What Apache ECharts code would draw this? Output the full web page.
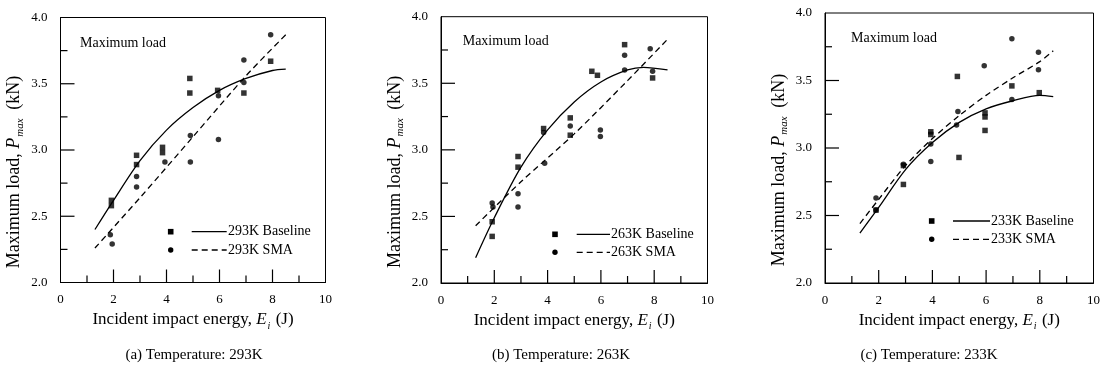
<!DOCTYPE html>
<html>
<head>
<meta charset="utf-8">
<script src="https://cdn.jsdelivr.net/npm/echarts@6/dist/echarts.min.js"></script>
<style>
  html, body { margin: 0; padding: 0; background: #fff; }
  #chart { width: 1108px; height: 375px; }
</style>
</head>
<body>
<div id="chart"></div>
<script>
// ---- measured specimens: incident energy (J) and peak load (kN) ----
// 293K
const base293E = [1.92, 1.92, 2.87, 2.87, 3.85, 3.85, 4.88, 4.88, 5.93, 6.92, 7.93];
const base293P = [2.62, 2.58, 2.96, 2.89, 3.02, 2.98, 3.54, 3.43, 3.45, 3.43, 3.67];
const sma293E  = [1.88, 1.95, 2.87, 2.87, 3.94, 4.90, 4.90, 5.96, 5.96, 6.92, 6.92, 7.93];
const sma293P  = [2.36, 2.29, 2.80, 2.72, 2.91, 3.11, 2.91, 3.41, 3.08, 3.68, 3.51, 3.87];
// 263K
const base263E = [1.92, 1.92, 2.89, 2.89, 3.85, 4.85, 4.85, 5.66, 5.87, 6.89, 7.94];
const base263P = [2.46, 2.35, 2.95, 2.87, 3.16, 3.24, 3.11, 3.59, 3.56, 3.79, 3.54];
const sma263E  = [1.92, 1.95, 2.89, 2.89, 3.85, 3.89, 4.85, 5.98, 5.98, 6.89, 6.89, 7.85, 7.94];
const sma263P  = [2.60, 2.57, 2.67, 2.57, 3.13, 2.90, 3.18, 3.15, 3.10, 3.71, 3.60, 3.76, 3.59];
// 233K
const base233E = [1.90, 2.92, 2.92, 3.94, 3.94, 4.93, 4.99, 5.96, 5.96, 5.96, 6.96, 7.98];
const base233P = [2.54, 2.87, 2.73, 3.12, 3.10, 3.53, 2.93, 3.26, 3.23, 3.13, 3.46, 3.41];
const sma233E  = [1.90, 1.90, 2.92, 3.94, 3.94, 4.90, 4.95, 5.93, 6.96, 6.96, 7.95, 7.95];
const sma233P  = [2.63, 2.54, 2.88, 2.90, 3.03, 3.17, 3.27, 3.61, 3.81, 3.36, 3.71, 3.58];

// ---- fitted trend curves (sampled along each curve) ----
const fit293BaseE = [1.3, 2, 3, 4, 5, 6, 7, 8, 8.5];
const fit293BaseP = [2.40, 2.62, 2.92, 3.15, 3.32, 3.45, 3.54, 3.60, 3.61];
const fit293SmaE  = [1.3, 3, 5, 7, 8.5];
const fit293SmaP  = [2.26, 2.64, 3.10, 3.56, 3.87];

const fit263BaseE = [1.3, 2, 3, 4, 5, 6, 7, 7.6, 8.5];
const fit263BaseP = [2.19, 2.49, 2.87, 3.15, 3.36, 3.51, 3.60, 3.62, 3.60];
const fit263SmaE  = [1.3, 3, 5, 7, 8.5];
const fit263SmaP  = [2.43, 2.76, 3.12, 3.52, 3.83];

const fit233BaseE = [1.3, 2, 3, 4, 5, 6, 7, 8, 8.5];
const fit233BaseP = [2.37, 2.56, 2.84, 3.04, 3.19, 3.29, 3.35, 3.39, 3.38];
const fit233SmaE  = [1.3, 2, 3, 4, 5, 6, 7, 8, 8.5];
const fit233SmaP  = [2.44, 2.62, 2.87, 3.07, 3.24, 3.39, 3.52, 3.64, 3.72];

// ---- axis ticks (energy every 1 J, load every 0.25 kN) ----
const energyTicks = [1, 2, 3, 4, 5, 6, 7, 8, 9];
const loadTicks   = [2.25, 2.5, 2.75, 3.0, 3.25, 3.5, 3.75];

// ---- text ----
const temps    = ['293K', '263K', '233K'];
const captions = ['(a) Temperature: 293K', '(b) Temperature: 263K', '(c) Temperature: 233K'];
const panelNote = 'Maximum load';

const FONT = '"Liberation Serif", "Times New Roman", serif';
const INK = '#000';
const E_MIN = 0, E_MAX = 10, P_MIN = 2, P_MAX = 4;

const zip = (xs, ys) => xs.map((x, i) => [x, ys[i]]);

const panelData = [
  { base: zip(base293E, base293P), sma: zip(sma293E, sma293P),
    baseFit: zip(fit293BaseE, fit293BaseP), smaFit: zip(fit293SmaE, fit293SmaP) },
  { base: zip(base263E, base263P), sma: zip(sma263E, sma263P),
    baseFit: zip(fit263BaseE, fit263BaseP), smaFit: zip(fit263SmaE, fit263SmaP) },
  { base: zip(base233E, base233P), sma: zip(sma233E, sma233P),
    baseFit: zip(fit233BaseE, fit233BaseP), smaFit: zip(fit233SmaE, fit233SmaP) }
];

// plot boxes of the three panels
const boxes = [
  { left: 60.5, top: 17.5, width: 265,   height: 265 },
  { left: 441,  top: 16.7, width: 266.5, height: 266.3 },
  { left: 825,  top: 13,   width: 268.5, height: 270 }
];
// legend anchor (marker x, first row y) and note anchor per panel
const legendPos = [
  { mx: 170.7, y: 231.7, lx0: 191.7, lx1: 226.7, tx: 228, dy: 18.3 },
  { mx: 555,   y: 234.3, lx0: 576.7, lx1: 610,   tx: 611, dy: 18 },
  { mx: 931.7, y: 221,   lx0: 953,   lx1: 990,   tx: 991, dy: 18.3 }
];
const notePos = [ { x: 80, y: 43 }, { x: 462.7, y: 41.7 }, { x: 851, y: 38.3 } ];
const captionX = [194, 561, 929];

const richName = {
  t:   { fontFamily: FONT, fontSize: 17, color: INK, lineHeight: 22, verticalAlign: 'middle' },
  it:  { fontFamily: FONT, fontSize: 17, fontStyle: 'italic', color: INK, lineHeight: 22, verticalAlign: 'middle' },
  sub: { fontFamily: FONT, fontSize: 10, fontStyle: 'italic', color: INK, lineHeight: 11, padding: [0, 1, 0, 1], verticalAlign: 'bottom' }
};
const richNameY = {
  t:   { fontFamily: FONT, fontSize: 18, color: INK, lineHeight: 22, verticalAlign: 'middle' },
  it:  { fontFamily: FONT, fontSize: 18, fontStyle: 'italic', color: INK, lineHeight: 22, verticalAlign: 'middle' },
  sub: { fontFamily: FONT, fontSize: 11, fontStyle: 'italic', color: INK, lineHeight: 11, padding: [0, 4, 0, 1], verticalAlign: 'bottom' }
};

const grid = [], xAxis = [], yAxis = [], series = [], graphic = [];

boxes.forEach((b, i) => {
  grid.push(Object.assign({ show: true, borderColor: INK }, b));

  xAxis.push({
    gridIndex: i, type: 'value', min: E_MIN, max: E_MAX, interval: 2,
    axisLine: { show: true, lineStyle: { color: INK } },
    axisTick: { show: false }, minorTick: { show: false },
    splitLine: { show: false },
    axisLabel: { margin: 11, fontFamily: FONT, fontSize: 13, color: INK },
    name: '{t|Incident impact energy, }{it|E}{sub|i}{t| (J)}',
    nameLocation: 'middle', nameGap: 26,
    nameTextStyle: { rich: richName }
  });

  yAxis.push({
    gridIndex: i, type: 'value', min: P_MIN, max: P_MAX, interval: 0.5,
    axisLine: { show: true, lineStyle: { color: INK } },
    axisTick: { show: false }, minorTick: { show: false },
    splitLine: { show: false },
    axisLabel: { margin: 13, fontFamily: FONT, fontSize: 13, color: INK, formatter: v => v.toFixed(1) },
    name: '{t|Maximum load, }{it|P}{sub|max}{t| (kN)}',
    nameLocation: 'middle', nameGap: 35,
    nameTextStyle: { rich: richNameY, padding: [0, 44, 0, 0] }
  });

  const d = panelData[i];
  series.push(
    { type: 'scatter', name: temps[i] + ' Baseline pts', xAxisIndex: i, yAxisIndex: i,
      data: d.base, symbol: 'rect', symbolSize: 5.5, itemStyle: { color: INK } },
    { type: 'scatter', name: temps[i] + ' SMA pts', xAxisIndex: i, yAxisIndex: i,
      data: d.sma, symbol: 'circle', symbolSize: 5.5, itemStyle: { color: INK } },
    { type: 'line', name: temps[i] + ' Baseline', xAxisIndex: i, yAxisIndex: i,
      data: d.baseFit, smooth: 0.3, showSymbol: false,
      lineStyle: { color: INK, width: 1.3 } },
    { type: 'line', name: temps[i] + ' SMA', xAxisIndex: i, yAxisIndex: i,
      data: d.smaFit, smooth: 0.3, showSymbol: false,
      lineStyle: { color: INK, width: 1.3, type: [6, 4] } }
  );

  // legend block
  const L = legendPos[i];
  graphic.push(
    { type: 'rect', shape: { x: L.mx - 2.8, y: L.y - 2.8, width: 5.6, height: 5.6 }, style: { fill: INK } },
    { type: 'line', shape: { x1: L.lx0, y1: L.y, x2: L.lx1, y2: L.y }, style: { stroke: INK, lineWidth: 1.3 } },
    { type: 'text', x: L.tx, y: L.y, style: { text: temps[i] + ' Baseline', font: '14px ' + FONT, fill: INK, verticalAlign: 'middle' } },
    { type: 'circle', shape: { cx: L.mx, cy: L.y + L.dy, r: 2.7 }, style: { fill: INK } },
    { type: 'line', shape: { x1: L.lx0, y1: L.y + L.dy, x2: L.lx1, y2: L.y + L.dy }, style: { stroke: INK, lineWidth: 1.3, lineDash: [6, 4] } },
    { type: 'text', x: L.tx, y: L.y + L.dy, style: { text: temps[i] + ' SMA', font: '14px ' + FONT, fill: INK, verticalAlign: 'middle' } },
    { type: 'text', x: notePos[i].x, y: notePos[i].y, style: { text: panelNote, font: '14px ' + FONT, fill: INK, verticalAlign: 'middle' } },
    { type: 'text', x: captionX[i], y: 355, style: { text: captions[i], font: '15px ' + FONT, fill: INK, align: 'center', verticalAlign: 'middle' } }
  );

  // inward tick marks along the bottom and left edges of the plot box
  const bottom = b.top + b.height;
  energyTicks.forEach(v => {
    const x = b.left + (v - E_MIN) / (E_MAX - E_MIN) * b.width;
    const len = v % 2 === 0 ? 13 : 7;
    graphic.push({ type: 'line', shape: { x1: x, y1: bottom, x2: x, y2: bottom - len },
                   style: { stroke: INK, lineWidth: 1.2 } });
  });
  loadTicks.forEach(v => {
    const y = bottom - (v - P_MIN) / (P_MAX - P_MIN) * b.height;
    const major = Math.abs(v * 2 - Math.round(v * 2)) < 1e-9;
    const len = major ? 14 : 7;
    graphic.push({ type: 'line', shape: { x1: b.left, y1: y, x2: b.left + len, y2: y },
                   style: { stroke: INK, lineWidth: 1.2 } });
  });
});

const chart = echarts.init(document.getElementById('chart'));
chart.setOption({
  backgroundColor: '#fff',
  animation: false,
  grid, xAxis, yAxis, series, graphic
});
</script>
</body>
</html>
